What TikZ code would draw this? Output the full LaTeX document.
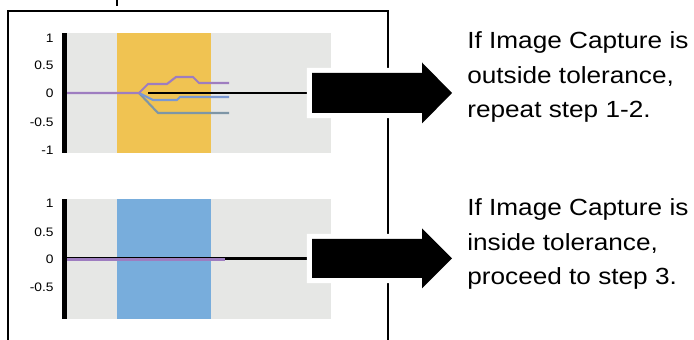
\documentclass[tikz,border=0pt]{standalone}
\usepackage{fontspec}
\setmainfont{Liberation Sans}[FakeStretch=1.12]
\definecolor{bggray}{RGB}{230,231,229}
\definecolor{bandyellow}{RGB}{240,195,82}
\definecolor{bandblue}{RGB}{120,173,220}
\definecolor{tracepurple}{RGB}{158,125,192}
\definecolor{traceblue}{RGB}{122,152,210}
\definecolor{tracegray}{RGB}{126,150,166}
\begin{document}
\begin{tikzpicture}[x=0.02cm, y=-0.02cm,
  tick/.style={font=\fontsize{7}{8}\selectfont, anchor=east, inner sep=0pt},
  trace/.style={line width=1.2pt, line join=round},
  zero/.style={line width=1.7pt},
  bigarrow/.style={fill=black, preaction={draw=white, line width=5.7pt, line join=miter}},
  note/.style={align=left, anchor=north west, inner sep=0pt, font=\fontsize{13.3}{19.6}\selectfont}
]
\useasboundingbox (0,0) rectangle (694,340);

% frame
\draw[line width=1.1pt] (8,340) -- (8,11) -- (388,11) -- (388,340);
\draw[line width=0.6pt] (117,0) -- (117,6);

% upper panel
\fill[bggray] (67,33) rectangle (331,153);
\fill[bandyellow] (117,33) rectangle (211,153);
\fill (62,33) rectangle (67,153);
\node[tick] (u1) at (54,38) {1};
\node[tick] (u2) at (54,65) {0.5};
\node[tick] (u3) at (54,93) {0};
\node[tick] (u4) at (54,122) {-0.5};
\node[tick] (u5) at (54,150) {-1};
\coordinate (start1) at (67,93);
\coordinate (split1) at (139,93);
\coordinate (ref1) at (148,93);
\coordinate (tail1) at (312,93);
\draw[trace, tracegray] (split1) -- (158,113) -- (229,113);
\draw[trace, traceblue] (split1) -- (153,100) -- (177,100) -- (180,97) -- (229,97);
\draw[trace, tracepurple] (start1) -- (split1) -- (148,84) -- (167,84) -- (176,77) -- (193,77) -- (199,83) -- (229,83);
\draw[zero] (ref1) -- (tail1);

% lower panel
\fill[bggray] (67,199) rectangle (331,319);
\fill[bandblue] (117,199) rectangle (211,319);
\fill (62,199) rectangle (67,319);
\node[tick] (l1) at (54,203) {1};
\node[tick] (l2) at (54,232) {0.5};
\node[tick] (l3) at (54,259) {0};
\node[tick] (l4) at (54,287) {-0.5};
\coordinate (start2) at (67,258.5);
\coordinate (end2) at (225,258.5);
\coordinate (tail2) at (312,258.5);
\draw[zero] (start2) -- (tail2);
\draw[trace, tracepurple, line width=1.6pt] ([yshift=-0.4pt]start2) -- ([yshift=-0.4pt]end2);

% arrows
\fill[bigarrow] (tail1) ++(0,-20) -- ++(110,0) -- ++(0,-10.5) -- ++(30,30.5) -- ++(-30,30.5) -- ++(0,-10.5) -- ++(-110,0) -- cycle;
\fill[bigarrow] (tail2) ++(0,-19.5) -- ++(110,0) -- ++(0,-10.5) -- ++(30,30) -- ++(-30,30) -- ++(0,-10.5) -- ++(-110,0) -- cycle;

% notes
\node[note] (txt1) at (467,31.5) {If Image Capture is\\outside tolerance,\\repeat step 1-2.};
\node[note] (txt2) at (467,198.5) {If Image Capture is\\inside tolerance,\\proceed to step 3.};
\end{tikzpicture}
\end{document}
